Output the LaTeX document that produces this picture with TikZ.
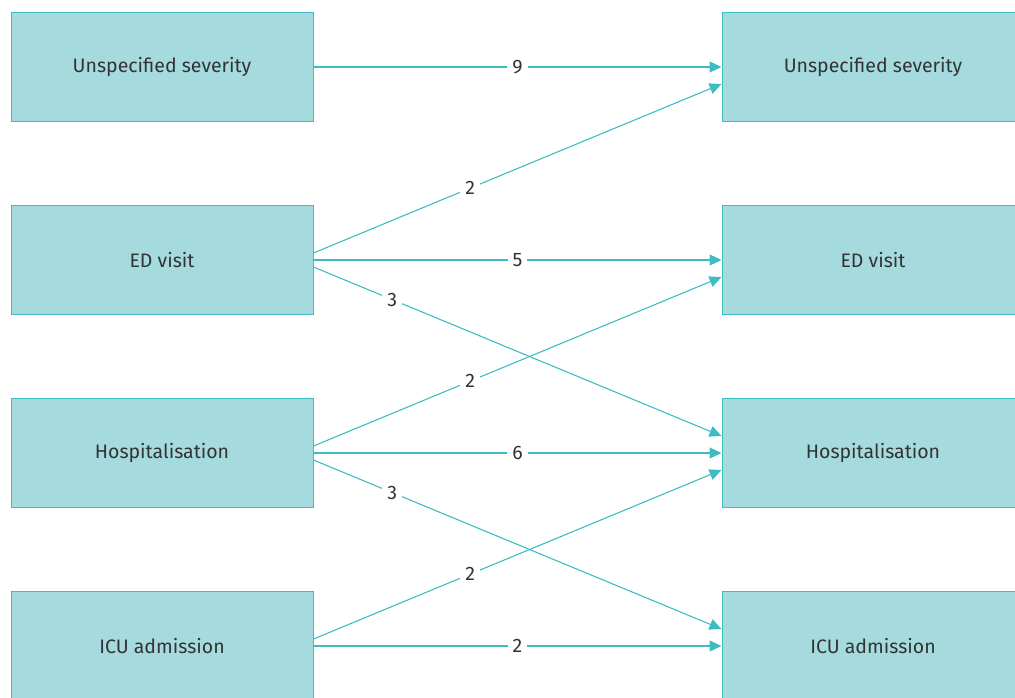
\documentclass[tikz,border=0pt]{standalone}
\usepackage{fontspec}
\setmainfont{Fira Sans}
\usetikzlibrary{arrows.meta,positioning}
\definecolor{boxfill}{HTML}{A5DBDE}
\definecolor{teal}{HTML}{3EBCC3}
\definecolor{ink}{HTML}{333333}
\begin{document}
\begin{tikzpicture}[
x=1pt,y=-1pt,
sev/.style={
  draw=teal,
  fill=boxfill,
  line width=1pt,
  minimum width=302pt,
  minimum height=109pt,
  inner sep=0pt,
  text=ink,
  font=\fontsize{19.5}{22}\selectfont
},
flow/.style={
  draw=teal,
  line width=1.1pt,
  -{Triangle[length=12pt,width=11pt]}
},
num/.style={
  fill=white,
  inner xsep=5pt,
  inner ysep=2pt,
  text=ink,
  font=\fontsize{19.5}{22}\selectfont
}
]
\useasboundingbox (0,0) rectangle (1015,697);
\clip (0,0) rectangle (1015,697);
% left column
\node[sev] (unsL) at (162,67) {Unspecified severity};
\node[sev] (edL) at (162,260) {ED visit};
\node[sev] (hospL) at (162,453) {Hospitalisation};
\node[sev] (icuL) at (162,646) {ICU admission};
% right column
\node[sev] (unsR) at (873,67) {Unspecified severity};
\node[sev] (edR) at (873,260) {ED visit};
\node[sev] (hospR) at (873,453) {Hospitalisation};
\node[sev] (icuR) at (873,646) {ICU admission};

\draw[flow] (unsL.east) -- node[num] {9} (unsR.west);

\draw[flow] ([yshift=7pt]edL.east) -- node[num,pos=.384] {2} ([yshift=-17pt]unsR.west);
\draw[flow] (edL.east) -- node[num] {5} (edR.west);
\draw[flow] ([yshift=-7pt]edL.east) -- node[num,pos=.193] {3} ([yshift=17pt]hospR.west);

\draw[flow] ([yshift=7pt]hospL.east) -- node[num,pos=.384] {2} ([yshift=-17pt]edR.west);
\draw[flow] (hospL.east) -- node[num] {6} (hospR.west);
\draw[flow] ([yshift=-7pt]hospL.east) -- node[num,pos=.193] {3} ([yshift=17pt]icuR.west);

\draw[flow] ([yshift=7pt]icuL.east) -- node[num,pos=.384] {2} ([yshift=-17pt]hospR.west);
\draw[flow] (icuL.east) -- node[num] {2} (icuR.west);
\end{tikzpicture}
\end{document}
